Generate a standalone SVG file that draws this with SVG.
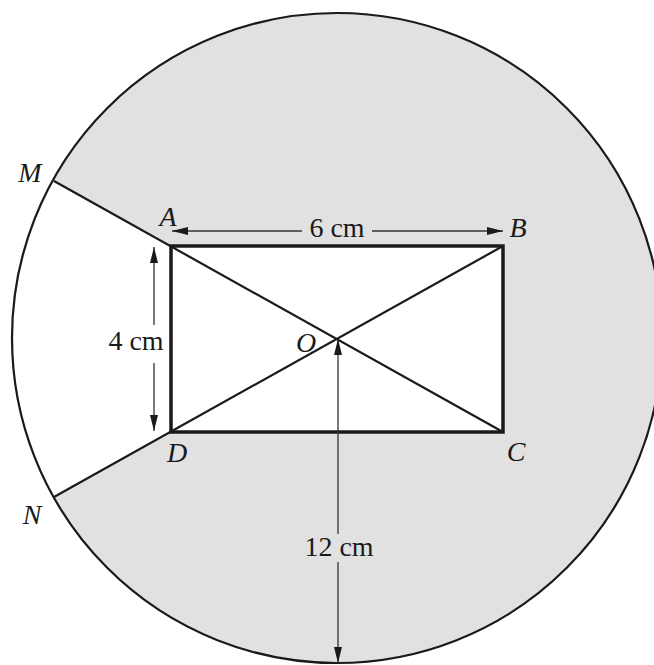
<svg xmlns="http://www.w3.org/2000/svg" width="654" height="665" viewBox="0 0 654 665">
<style>
.thin{stroke:#1a1a1a;stroke-width:2.2;fill:none}
.rect{stroke:#1a1a1a;stroke-width:3.5;fill:none}
.dim{stroke:#333;stroke-width:1.3;fill:none}
.lbl{font-family:"Liberation Serif",serif;font-style:italic;font-size:28px;fill:#1a1a1a}
.num{font-family:"Liberation Serif",serif;font-size:28px;fill:#1a1a1a}
</style>
<defs>
<marker id="ah" viewBox="0 0 16 8" refX="16" refY="4" markerWidth="16" markerHeight="8" markerUnits="userSpaceOnUse" orient="auto-start-reverse">
<path d="M0,0 L16,4 L0,8 Z" fill="#1a1a1a"/>
</marker>
</defs>
<rect width="654" height="665" fill="#fff"/>
<g id="circle">
<circle cx="337" cy="338" r="325" fill="#e1e1e1" stroke="none"/>
<path d="M54,181 A325,325 0 0 0 54,497 L171,432 L503,432 L503,246 L171,246 Z" fill="#fff"/>
<circle cx="337" cy="338" r="325" class="thin"/>
</g>
<g id="connectors">
<line class="thin" x1="54" y1="181" x2="503" y2="432"/>
<line class="thin" x1="54" y1="497" x2="503" y2="246"/>
</g>
<g id="rectangle">
<rect class="rect" x="171" y="246" width="332" height="186"/>
</g>
<g id="dimensions">
<line class="dim" x1="172" y1="231" x2="302" y2="231" marker-start="url(#ah)"/>
<line class="dim" x1="372" y1="231" x2="503" y2="231" marker-end="url(#ah)"/>
<line class="dim" x1="154" y1="247" x2="154" y2="325" marker-start="url(#ah)"/>
<line class="dim" x1="154" y1="363" x2="154" y2="431" marker-end="url(#ah)"/>
<line class="dim" x1="338" y1="339" x2="338" y2="534" marker-start="url(#ah)"/>
<line class="dim" x1="338" y1="562" x2="338" y2="663" marker-end="url(#ah)"/>
<text class="num" x="337" y="237" text-anchor="middle">6 cm</text>
<text class="num" x="136" y="350" text-anchor="middle">4 cm</text>
<text class="num" x="339" y="556" text-anchor="middle">12 cm</text>
</g>
<g id="labels">
<text class="lbl" x="30" y="182" text-anchor="middle">M</text>
<text class="lbl" x="168" y="226" text-anchor="middle">A</text>
<text class="lbl" x="518" y="237" text-anchor="middle">B</text>
<text class="lbl" x="516" y="461" text-anchor="middle">C</text>
<text class="lbl" x="177" y="462" text-anchor="middle">D</text>
<text class="lbl" x="32" y="524" text-anchor="middle">N</text>
<text class="lbl" x="306" y="352" text-anchor="middle">O</text>
</g>
</svg>
